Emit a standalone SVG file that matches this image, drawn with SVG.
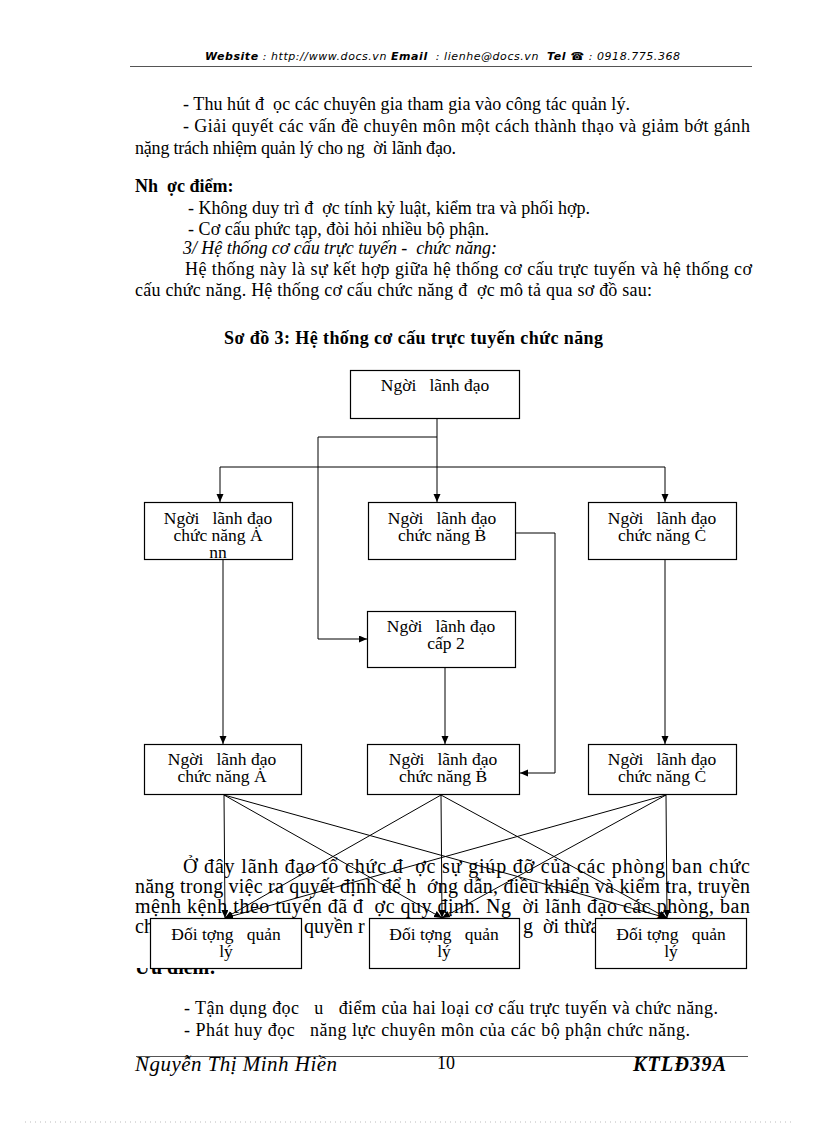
<svg xmlns="http://www.w3.org/2000/svg" width="816" height="1123" viewBox="0 0 816 1123">
<style>
.t{font-family:"Liberation Serif","Times New Roman",serif;font-size:18px;fill:#000;white-space:pre}
.p{font-size:20px}
.b{font-weight:bold}
.i{font-style:italic}
.f1{font-size:21px}
.f2{font-size:20px}
.h{font-family:"DejaVu Sans","Liberation Sans",sans-serif;font-size:11px;font-style:italic;fill:#000;white-space:pre}
.bt{font-family:"Liberation Serif","Times New Roman",serif;font-size:17.5px;fill:#000;text-anchor:middle;white-space:pre}
.box{fill:#fff;stroke:#000;stroke-width:1.2}
.ln{fill:none;stroke:#000;stroke-width:1}
.rule{stroke:#555;stroke-width:1}
</style>
<defs>
<marker id="arr" markerUnits="userSpaceOnUse" markerWidth="9" markerHeight="8" refX="8" refY="3.5" orient="auto">
<path d="M0,0 L8,3.5 L0,7 z" fill="#000"/>
</marker>
<clipPath id="clipUu"><rect x="0" y="968" width="816" height="40"/></clipPath>
<clipPath id="clipA"><rect x="144" y="502" width="148" height="57"/></clipPath>
</defs>
<rect width="816" height="1123" fill="#fff"/>

<g id="header">
<text class="h" x="205" y="60" textLength="475" lengthAdjust="spacing"><tspan font-weight="bold">Website</tspan> : http://www.docs.vn <tspan font-weight="bold">Email</tspan>  : lienhe@docs.vn  <tspan font-weight="bold">Tel ☎</tspan> : 0918.775.368</text>
<line class="rule" x1="130" y1="66.5" x2="752" y2="66.5"/>
</g>

<g id="body-text">
<text class="t" x="183" y="110" textLength="447" lengthAdjust="spacing">- Thu hút đ  ọc các chuyên gia tham gia vào công tác quản lý.</text>
<text class="t" x="183" y="132" textLength="567" lengthAdjust="spacing">- Giải quyết các vấn đề chuyên môn một cách thành thạo và giảm bớt gánh</text>
<text class="t" x="135" y="154" textLength="321" lengthAdjust="spacing">nặng trách nhiệm quản lý cho ng  ời lãnh đạo.</text>
<text class="t b" x="135" y="192">Nh  ợc điểm:</text>
<text class="t" x="188" y="214" textLength="402" lengthAdjust="spacing">- Không duy trì đ  ợc tính kỷ luật, kiểm tra và phối hợp.</text>
<text class="t" x="188" y="235" textLength="301" lengthAdjust="spacing">- Cơ cấu phức tạp, đòi hỏi nhiều bộ phận.</text>
<text class="t i" x="183" y="254" textLength="314" lengthAdjust="spacing">3/ Hệ thống cơ cấu trực tuyến -  chức năng:</text>
<text class="t" x="185" y="275" textLength="567" lengthAdjust="spacing">Hệ thống này là sự kết hợp giữa hệ thống cơ cấu trực tuyến và hệ thống cơ</text>
<text class="t" x="135" y="296" textLength="517" lengthAdjust="spacing">cấu chức năng. Hệ thống cơ cấu chức năng đ  ợc mô tả qua sơ đồ sau:</text>
<text class="t b" x="224" y="344" textLength="379" lengthAdjust="spacing">Sơ đồ 3: Hệ thống cơ cấu trực tuyến chức năng</text>

<text class="t p" x="183" y="873" textLength="567" lengthAdjust="spacing">Ở đây lãnh đạo tổ chức đ  ợc sự giúp đỡ của các phòng ban chức</text>
<text class="t p" x="135" y="893" textLength="615" lengthAdjust="spacing">năng trong việc ra quyết định để h  ớng dẫn, điều khiển và kiểm tra, truyền</text>
<text class="t p" x="135" y="913" textLength="615" lengthAdjust="spacing">mệnh kệnh theo tuyến đã đ  ợc quy định. Ng  ời lãnh đạo các phòng, ban</text>
<text class="t p" x="135" y="933">ch</text>
<text class="t p" x="304" y="933">quyền r</text>
<text class="t p" x="523" y="933">g  ời thừa</text>
<text class="t p b" x="135" y="974" clip-path="url(#clipUu)">Ưu điểm:</text>

<text class="t" x="184" y="1014" textLength="534" lengthAdjust="spacing">- Tận dụng đọc   u   điểm của hai loại cơ cấu trực tuyến và chức năng.</text>
<text class="t" x="184" y="1036" textLength="506" lengthAdjust="spacing">- Phát huy đọc   năng lực chuyên môn của các bộ phận chức năng.</text>
</g>

<g id="footer">
<line class="rule" x1="136" y1="1056.5" x2="748" y2="1056.5"/>
<text class="t i f1" x="135" y="1071" textLength="202" lengthAdjust="spacing">Nguyễn Thị Minh Hiền</text>
<text class="t" x="437" y="1069">10</text>
<text class="t b i f2" x="633" y="1071" textLength="93" lengthAdjust="spacing">KTLĐ39A</text>
<line x1="25" y1="1122" x2="795" y2="1122" stroke="#bbb" stroke-width="1" stroke-dasharray="1 4"/>
</g>

<g id="connectors">
<path class="ln" d="M437,418 V502" marker-end="url(#arr)"/>
<path class="ln" d="M437,437 H318 V639 H367" marker-end="url(#arr)"/>
<path class="ln" d="M220,467 H665"/>
<path class="ln" d="M220,467 V502" marker-end="url(#arr)"/>
<path class="ln" d="M665,467 V502" marker-end="url(#arr)"/>
<path class="ln" d="M516,533 H555 V773 H520" marker-end="url(#arr)"/>
<path class="ln" d="M223,560 V744" marker-end="url(#arr)"/>
<path class="ln" d="M445,667 V744" marker-end="url(#arr)"/>
<path class="ln" d="M665,560 V744" marker-end="url(#arr)"/>
<path class="ln" d="M224,795 L225,918" marker-end="url(#arr)"/>
<path class="ln" d="M224,795 L442,918" marker-end="url(#arr)"/>
<path class="ln" d="M224,795 L667,918" marker-end="url(#arr)"/>
<path class="ln" d="M441,795 L225,918" marker-end="url(#arr)"/>
<path class="ln" d="M441,795 L442,918" marker-end="url(#arr)"/>
<path class="ln" d="M441,795 L667,918" marker-end="url(#arr)"/>
<path class="ln" d="M666,795 L225,918" marker-end="url(#arr)"/>
<path class="ln" d="M666,795 L442,918" marker-end="url(#arr)"/>
<path class="ln" d="M666,795 L667,918" marker-end="url(#arr)"/>
</g>

<g id="n-top">
<rect class="box" x="350.5" y="370.5" width="169" height="48"/>
<text class="bt" x="435" y="391">Ngời   lãnh đạo</text>
</g>
<g id="n-A">
<rect class="box" x="144.5" y="502.5" width="148" height="57"/>
<text class="bt" x="218" y="524">Ngời   lãnh đạo</text>
<text class="bt" x="218" y="541">chức năng Ȧ</text>
<text class="bt" x="218" y="558" clip-path="url(#clipA)">nn</text>
</g>
<g id="n-B">
<rect class="box" x="368.5" y="502.5" width="147" height="57"/>
<text class="bt" x="442" y="524">Ngời   lãnh đạo</text>
<text class="bt" x="442" y="541">chức năng Ḃ</text>
</g>
<g id="n-C">
<rect class="box" x="588.5" y="502.5" width="148" height="57"/>
<text class="bt" x="662" y="524">Ngời   lãnh đạo</text>
<text class="bt" x="662" y="541">chức năng Ċ</text>
</g>
<g id="n-cap2">
<rect class="box" x="367.5" y="611.5" width="148" height="56"/>
<text class="bt" x="441" y="632">Ngời   lãnh đạo</text>
<text class="bt" x="446" y="649">cấp 2</text>
</g>
<g id="n-A3">
<rect class="box" x="144.5" y="744.5" width="157" height="50"/>
<text class="bt" x="222" y="765">Ngời   lãnh đạo</text>
<text class="bt" x="222" y="782">chức năng Ȧ</text>
</g>
<g id="n-B3">
<rect class="box" x="367.5" y="744.5" width="152" height="50"/>
<text class="bt" x="443" y="765">Ngời   lãnh đạo</text>
<text class="bt" x="443" y="782">chức năng Ḃ</text>
</g>
<g id="n-C3">
<rect class="box" x="588.5" y="744.5" width="148" height="50"/>
<text class="bt" x="662" y="765">Ngời   lãnh đạo</text>
<text class="bt" x="662" y="782">chức năng Ċ</text>
</g>
<g id="n-D1">
<rect class="box" x="150.5" y="918.5" width="151" height="50"/>
<text class="bt" x="226" y="940">Đối tợng   quản</text>
<text class="bt" x="226" y="957">lý</text>
</g>
<g id="n-D2">
<rect class="box" x="369.5" y="918.5" width="150" height="50"/>
<text class="bt" x="444" y="940">Đối tợng   quản</text>
<text class="bt" x="444" y="957">lý</text>
</g>
<g id="n-D3">
<rect class="box" x="595.5" y="918.5" width="151" height="50"/>
<text class="bt" x="671" y="940">Đối tợng   quản</text>
<text class="bt" x="671" y="957">lý</text>
</g>
</svg>
